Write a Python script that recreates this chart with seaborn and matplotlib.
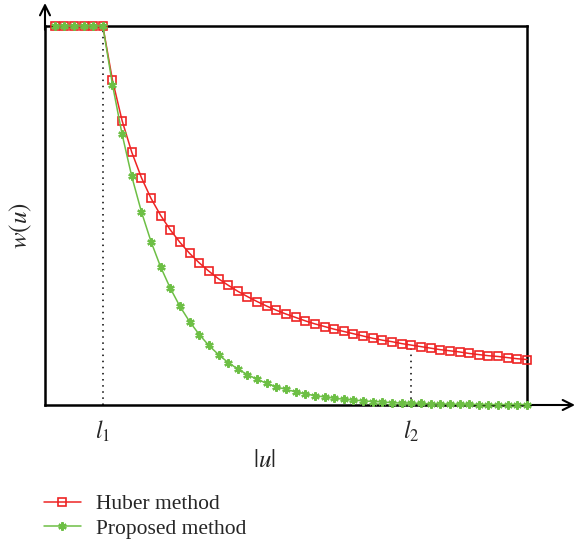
import numpy as np
import pandas as pd
import matplotlib
matplotlib.use("Agg")
import matplotlib.pyplot as plt
import seaborn as sns

# |u| sample index (1..50), l1 at 6, l2 at 38
u = list(range(1, 51))
huber = [1, 1, 1, 1, 1, 1,
         0.857, 0.750, 0.667, 0.600, 0.545, 0.500, 0.462, 0.429, 0.400, 0.375,
         0.353, 0.333, 0.316, 0.300, 0.286, 0.273, 0.261, 0.250, 0.240, 0.231,
         0.222, 0.214, 0.207, 0.200, 0.194, 0.188, 0.182, 0.176, 0.171, 0.167,
         0.162, 0.158, 0.154, 0.150, 0.146, 0.143, 0.140, 0.136, 0.133, 0.130,
         0.128, 0.125, 0.122, 0.120]
proposed = [1, 1, 1, 1, 1, 1,
            0.845, 0.714, 0.603, 0.510, 0.431, 0.364, 0.308, 0.260, 0.220, 0.186,
            0.157, 0.133, 0.112, 0.095, 0.080, 0.068, 0.057, 0.048, 0.041, 0.035,
            0.029, 0.025, 0.021, 0.018, 0.015, 0.013, 0.011, 0.009, 0.008, 0.006,
            0.005, 0.005, 0.004, 0.003, 0.003, 0.002, 0.002, 0.002, 0.001, 0.001,
            0.001, 0.001, 0.001, 0.001]
l1_pos = 6
l2_pos = 38
tick_labels = [r"$l_1$", r"$l_2$"]
series_names = ["Huber method", "Proposed method"]

sns.set_theme(style="white")
plt.rcParams["mathtext.fontset"] = "stix"
plt.rcParams["font.family"] = ["Liberation Serif", "DejaVu Serif"]

RED = "#ee2424"
GREEN = "#6dbf45"

fig = plt.figure(figsize=(5.8, 5.46), dpi=100)
ax = fig.add_axes([45 / 580, 1 - 405 / 546, 482 / 580, 379 / 546])

sns.lineplot(x=u, y=huber, ax=ax, color=RED, lw=1.1, marker="s", ms=6,
             markerfacecolor="none", markeredgecolor=RED, markeredgewidth=1.2,
             label=series_names[0], clip_on=False, zorder=4)
sns.lineplot(x=u, y=proposed, ax=ax, color=GREEN, lw=1.1, marker=(6, 2, 0), ms=6,
             markerfacecolor=GREEN, markeredgecolor=GREEN, markeredgewidth=1.6,
             label=series_names[1], clip_on=False, zorder=5)

ax.set_xlim(0, 50)
ax.set_ylim(0, 1)

# dotted guide lines
ax.plot([l1_pos, l1_pos], [0, 1], ls=(0, (1, 3)), color="black", lw=1.1, zorder=2)
ax.plot([l2_pos, l2_pos], [0, huber[l2_pos - 1]], ls=(0, (1, 3)), color="black", lw=1.1, zorder=2)

for s in ax.spines.values():
    s.set_color("black")
    s.set_linewidth(1.8)

ax.set_yticks([])
ax.set_xticks([l1_pos, l2_pos])
ax.set_xticklabels(tick_labels, fontsize=17)
ax.tick_params(axis="x", length=0, pad=10)

# axis arrows
ax.annotate("", xy=(1.0996, 0), xytext=(0.99, 0), xycoords="axes fraction",
            arrowprops=dict(arrowstyle="->", lw=1.5, color="black",
                            mutation_scale=18, shrinkA=0, shrinkB=0))
ax.annotate("", xy=(0, 1.0607), xytext=(0, 0.99), xycoords="axes fraction",
            arrowprops=dict(arrowstyle="->", lw=1.5, color="black",
                            mutation_scale=18, shrinkA=0, shrinkB=0))

ax.set_xlabel(r"$|u|$", fontsize=18)
ax.xaxis.set_label_coords(0.456, -0.12)
ax.set_ylabel(r"$w(u)$", fontsize=18)
ax.yaxis.set_label_coords(-0.022, 0.472)

leg = ax.legend(loc="upper left", bbox_to_anchor=(-0.002, -0.235), frameon=False,
                fontsize=15.5, handlelength=1.7, handletextpad=0.7,
                labelspacing=0.2, borderaxespad=0, borderpad=0)

fig.savefig("out.png", dpi=100)
